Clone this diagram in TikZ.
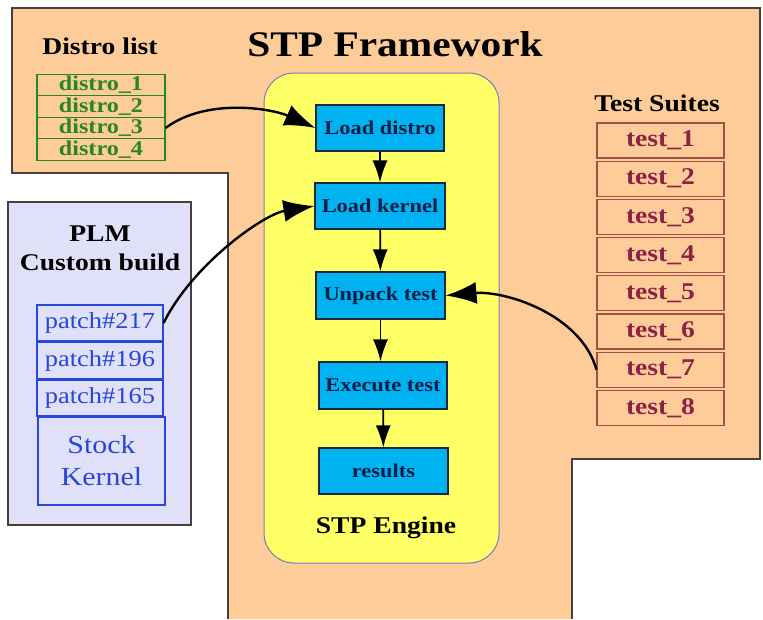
\documentclass[tikz,border=0pt]{standalone}
\usepackage{fontspec}
\setmainfont{Liberation Serif}[FakeStretch=1.15]
\usepackage{tikz}
\usetikzlibrary{arrows.meta}
\definecolor{peach}{RGB}{253,204,153}
\definecolor{frameline}{RGB}{75,62,62}
\definecolor{lavender}{RGB}{224,224,248}
\definecolor{engyellow}{RGB}{255,255,102}
\definecolor{engline}{RGB}{120,120,200}
\definecolor{stagefill}{RGB}{0,178,240}
\definecolor{stageline}{RGB}{25,40,60}
\definecolor{navytext}{RGB}{15,30,70}
\definecolor{dgreen}{RGB}{40,135,30}
\definecolor{pblue}{RGB}{40,70,220}
\definecolor{maroon}{RGB}{140,35,70}
\definecolor{suiteline}{RGB}{160,80,70}

\begin{document}
\begin{tikzpicture}[x=1pt,y=-1pt]
\tikzset{box/.style = {draw, inner sep=0pt, line width=1.1pt, align=center}}
\tikzset{distro/.style = {box, draw=dgreen, text=dgreen, minimum width=128pt, minimum height=21.5pt, font=\fontsize{21}{21}\selectfont\bfseries}}
\tikzset{patch/.style = {box, draw=pblue, text=pblue, minimum width=126pt, minimum height=36pt, font=\fontsize{23}{24}\selectfont}}
\tikzset{stage/.style = {box, fill=stagefill, draw=stageline, text=navytext, minimum width=128pt, minimum height=46pt, font=\fontsize{19.5}{20}\selectfont\bfseries}}
\tikzset{suite/.style = {box, draw=suiteline, text=maroon, minimum width=127pt, minimum height=35pt, font=\fontsize{24}{24}\selectfont\bfseries}}
\tikzset{heading/.style = {inner sep=0pt, align=center, font=\fontsize{24}{29}\selectfont\bfseries}}
\tikzset{flow/.style = {-{Latex[length=22pt,width=15pt]}, line width=1.7pt}}
\tikzset{link/.style = {-{Latex[length=31pt,width=22pt]}, line width=2.4pt}}
\useasboundingbox (0,0) rectangle (763,619);
% framework area
\fill[peach] (12,8) -- (760,8) -- (760,459) -- (572,459) -- (572,619) -- (228,619) -- (228,173) -- (12,173) -- cycle;
\draw[frameline, line width=1.3pt] (572,619) -- (572,459) -- (760,459) -- (760,8) -- (12,8) -- (12,173) -- (228,173) -- (228,619);
\node[heading, font=\fontsize{36}{40}\selectfont\bfseries] (title) at (395,44) {STP Framework};
% distro list
\node[heading] (dhead) at (100,46) {Distro list};
\node[distro] (d1) at (101,85) {distro\_1};
\node[distro] (d2) at (101,106.5) {distro\_2};
\node[distro] (d3) at (101,128) {distro\_3};
\node[distro] (d4) at (101,149.5) {distro\_4};
% custom build
\node[draw=frameline, fill=lavender, line width=1.2pt, minimum width=183pt, minimum height=323pt] (plm) at (99.5,363.5) {};
\node[heading] (phead) at (100,248) {PLM\\Custom build};
\node[patch] (p217) at (100,323) {patch\#217};
\node[patch] (p196) at (100,360.5) {patch\#196};
\node[patch] (p165) at (100,398) {patch\#165};
\node[patch, minimum width=127pt, minimum height=88pt, font=\fontsize{26}{32}\selectfont] (stock) at (101.5,461) {Stock\\Kernel};
% engine
\node[draw=engline, fill=engyellow, line width=1pt, rounded corners=30pt, minimum width=235pt, minimum height=490pt] (eng) at (381.5,318) {};
\node[stage] (ld) at (380,128) {Load distro};
\node[stage, minimum width=130pt] (lk) at (380,206) {Load kernel};
\node[stage, minimum width=129pt, minimum height=47pt] (ut) at (380.5,295.5) {Unpack test};
\node[stage, minimum height=47pt] (et) at (383,385.5) {Execute test};
\node[stage, minimum width=129pt] (res) at (383.5,471) {results};
\node[heading] (ehead) at (386,528) {STP Engine};
% test suites
\node[heading] (thead) at (657,103) {Test Suites};
\node[suite] (t1) at (660.5,140.5) {test\_1};
\node[suite] (t2) at (660.5,178.7) {test\_2};
\node[suite] (t3) at (660.5,216.9) {test\_3};
\node[suite] (t4) at (660.5,255.1) {test\_4};
\node[suite] (t5) at (660.5,293.3) {test\_5};
\node[suite] (t6) at (660.5,331.5) {test\_6};
\node[suite] (t7) at (660.5,369.7) {test\_7};
\node[suite] (t8) at (660.5,407.9) {test\_8};
% edges
\draw[flow] (ld) -- (lk);
\draw[flow] (lk) -- (ut);
\draw[flow] (ut.south) -- (et.north -| ut.south);
\draw[flow] (et) -- (res);
\draw[link] (d3.east) .. controls +(40,-30) and +(-45,-20) .. (ld.west);
\draw[link] (p217.east) .. controls +(30,-60) and +(-50,8) .. (lk.west);
\draw[link] (t7.west) .. controls +(-15,-55) and +(60,-5) .. (ut.east);
\end{tikzpicture}
\end{document}
